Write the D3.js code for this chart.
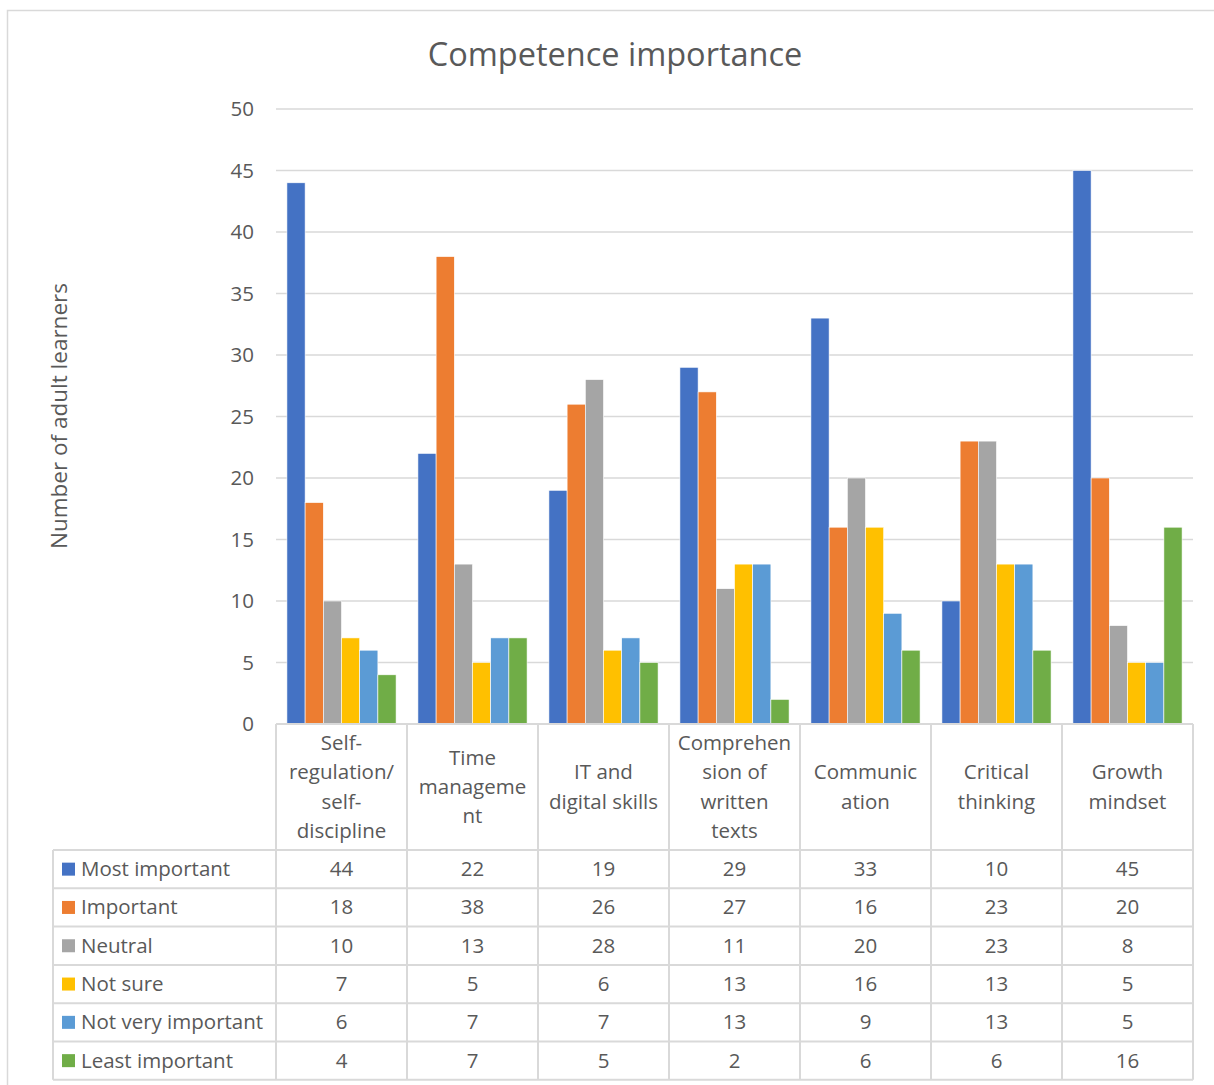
<!DOCTYPE html>
<html><head><meta charset="utf-8">
<script src="https://cdn.jsdelivr.net/npm/d3@7"></script>
<style>body{margin:0;background:#fff}svg{display:block}text{font-family:"Open Sans","Noto Sans",sans-serif;fill:#595959}</style>
</head><body><svg id="c" width="1214" height="1085"></svg>
<script>
const categories = ["Self-regulation/ self-discipline","Time management","IT and digital skills","Comprehension of written texts","Communication","Critical thinking","Growth mindset"];
const categoryLines = [["Self-","regulation/","self-","discipline"],["Time","manageme","nt"],["IT and","digital skills"],["Comprehen","sion of","written","texts"],["Communic","ation"],["Critical","thinking"],["Growth","mindset"]];
const seriesNames = ["Most important","Important","Neutral","Not sure","Not very important","Least important"];
const mostImportant = [44,22,19,29,33,10,45];
const important = [18,38,26,27,16,23,20];
const neutral = [10,13,28,11,20,23,8];
const notSure = [7,5,6,13,16,13,5];
const notVeryImportant = [6,7,7,13,9,13,5];
const leastImportant = [4,7,5,2,6,6,16];
const seriesValues = [mostImportant,important,neutral,notSure,notVeryImportant,leastImportant];
const colors = ["#4472C4","#ED7D31","#A5A5A5","#FFC000","#5B9BD5","#70AD47"];
const yTicks = [0,5,10,15,20,25,30,35,40,45,50];

const svg = d3.select("#c");
svg.append("rect").attr("x",7.5).attr("y",10.5).attr("width",1230).attr("height",1100).attr("fill","#fff").attr("stroke","#d9d9d9").attr("stroke-width",1.5);

const L=276,R=1193,T=109,B=724;
const x = d3.scaleBand().domain(categories).range([L,R]);
const xi = d3.scaleBand().domain(seriesNames).range([0,x.bandwidth()]).paddingOuter(0.6).paddingInner(0);
const y = d3.scaleLinear().domain([0,50]).range([B,T]);

svg.append("text").attr("x",615).attr("y",66).attr("text-anchor","middle").style("font-size","32.5px").text("Competence importance");

// grid
svg.append("g").selectAll("line").data(yTicks.filter(d=>d>0)).join("line")
 .attr("x1",L).attr("x2",R).attr("y1",d=>y(d)).attr("y2",d=>y(d)).attr("stroke","#d9d9d9").attr("stroke-width",1.5);
// y axis labels
const ya = svg.append("g").attr("transform",`translate(${L-19},0)`).call(d3.axisLeft(y).tickValues(yTicks).tickSize(0));
ya.select(".domain").remove();
ya.selectAll("text").attr("fill","#595959").style("font-size","20.5px").attr("font-family","Open Sans, Noto Sans, sans-serif").attr("text-anchor","end");

svg.append("text").attr("transform","translate(67,416) rotate(-90)").attr("text-anchor","middle").style("font-size","22.5px").text("Number of adult learners");

// bars
const g = svg.append("g");
seriesNames.forEach((s,si)=>{
  g.append("g").selectAll("rect").data(seriesValues[si]).join("rect")
   .attr("x",(d,i)=>x(categories[i])+xi(s)).attr("width",xi.bandwidth())
   .attr("y",d=>y(d)).attr("height",d=>B-y(d)).attr("fill",colors[si]).attr("stroke","#fff").attr("stroke-width",0.6);
});

// table
const rowTop = [850,888.3,926.6,964.9,1003.2,1041.5,1079.8];
const lc="#d9d9d9", lw=2;
const tg = svg.append("g");
tg.append("line").attr("x1",L).attr("x2",R).attr("y1",B).attr("y2",B).attr("stroke",lc).attr("stroke-width",lw);
rowTop.forEach(v=>tg.append("line").attr("x1",53).attr("x2",R).attr("y1",v).attr("y2",v).attr("stroke",lc).attr("stroke-width",lw));
tg.append("line").attr("x1",53).attr("x2",53).attr("y1",850).attr("y2",rowTop[6]).attr("stroke",lc).attr("stroke-width",lw);
categories.forEach(c=>tg.append("line").attr("x1",x(c)).attr("x2",x(c)).attr("y1",B).attr("y2",rowTop[6]).attr("stroke",lc).attr("stroke-width",lw));
tg.append("line").attr("x1",R).attr("x2",R).attr("y1",B).attr("y2",rowTop[6]).attr("stroke",lc).attr("stroke-width",lw);

const fs = "20.5px";
categories.forEach((c,i)=>{
  const lines = categoryLines[i]; const lh=29.2; const cy=787;
  const t = tg.append("text").attr("text-anchor","middle").style("font-size",fs);
  lines.forEach((ln,k)=>t.append("tspan").attr("x",x(c)+x.bandwidth()/2).attr("y",cy+(k-(lines.length-1)/2)*lh+7).text(ln));
});
seriesNames.forEach((s,si)=>{
  const cy=(rowTop[si]+rowTop[si+1])/2;
  tg.append("rect").attr("x",62).attr("y",cy-6.5).attr("width",13).attr("height",13).attr("fill",colors[si]);
  tg.append("text").attr("x",81).attr("y",cy+7).style("font-size",fs).text(s);
  seriesValues[si].forEach((v,i)=>tg.append("text").attr("x",x(categories[i])+x.bandwidth()/2).attr("y",cy+7).attr("text-anchor","middle").style("font-size",fs).text(v));
});
</script></body></html>
